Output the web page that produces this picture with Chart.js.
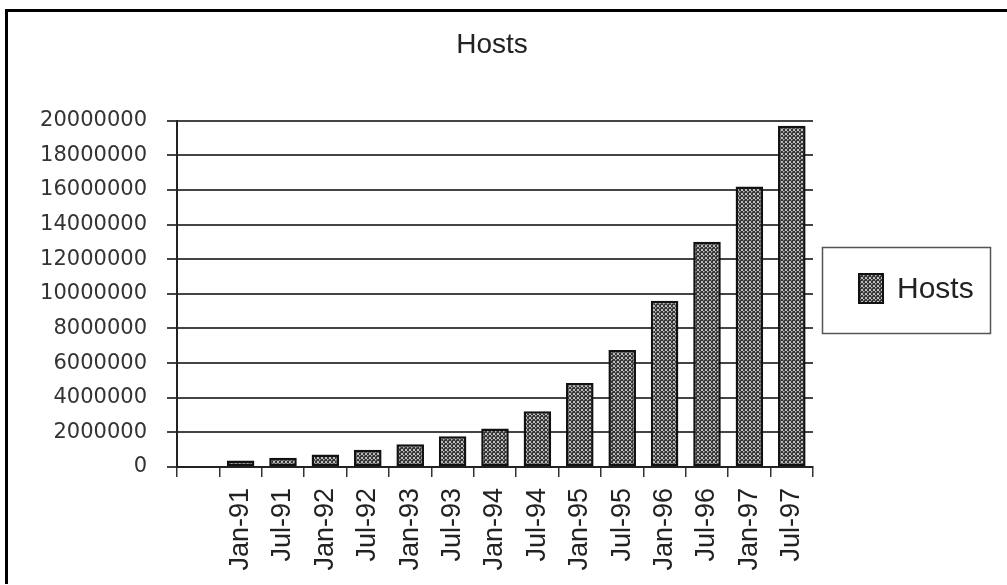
<!DOCTYPE html>
<html>
<head>
<meta charset="utf-8">
<title>Hosts</title>
<script src="https://cdn.jsdelivr.net/npm/chart.js@4/dist/chart.umd.min.js"></script>
<style>
  html, body { margin: 0; padding: 0; background: #fff; }
  #wrap { position: relative; width: 1007px; height: 585px; overflow: hidden; }
  #frameTop { position: absolute; left: 5px; top: 9px; width: 1002px; height: 3px; background: #000; }
  #frameLeft { position: absolute; left: 5px; top: 9px; width: 3px; height: 575px; background: #000; }
  canvas { position: absolute; left: 0; top: 0; }
</style>
</head>
<body>
<div id="wrap">
  <div id="frameTop"></div>
  <div id="frameLeft"></div>
  <canvas id="c" width="1007" height="585"></canvas>
</div>
<script>
// Half-yearly host counts; the first slot is an empty spacer category
const categories = ['', 'Jan-91', 'Jul-91', 'Jan-92', 'Jul-92', 'Jan-93', 'Jul-93', 'Jan-94',
  'Jul-94', 'Jan-95', 'Jul-95', 'Jan-96', 'Jul-96', 'Jan-97', 'Jul-97'];
const hosts = [null, 376000, 535000, 727000, 992000, 1313000, 1776000, 2217000,
  3212000, 4852000, 6750000, 9600000, 13000000, 16200000, 19700000];
const yMin = 0;
const yMax = 20000000;
const yStep = 2000000;
const seriesName = 'Hosts';

// Stippled grey fill for the columns
function makePattern() {
  const t = document.createElement('canvas');
  t.width = 4; t.height = 4;
  const g = t.getContext('2d');
  g.fillStyle = '#353535';
  g.fillRect(0, 0, 4, 4);
  g.fillStyle = '#bcbcbc';
  g.fillRect(1, 1, 2, 2);
  g.fillRect(3, 3, 1, 1);
  g.fillStyle = '#7e7e7e';
  g.fillRect(3, 0, 1, 1); g.fillRect(0, 3, 1, 1);
  return document.getElementById('c').getContext('2d').createPattern(t, 'repeat');
}
const fill = makePattern();

// Boxed legend drawn to the right of the plot
const boxedLegend = {
  id: 'boxedLegend',
  afterDraw(chart) {
    const ctx = chart.ctx;
    const ds = chart.data.datasets[0];
    ctx.save();
    ctx.strokeStyle = '#555';
    ctx.lineWidth = 1.5;
    ctx.strokeRect(822.5, 247.5, 168, 86);
    ctx.fillStyle = ds.backgroundColor;
    ctx.fillRect(859, 274, 24, 29);
    ctx.strokeStyle = '#111';
    ctx.lineWidth = 2;
    ctx.strokeRect(859, 274, 24, 29);
    ctx.fillStyle = '#222';
    ctx.font = '30px "Liberation Sans", Arial, sans-serif';
    ctx.textBaseline = 'middle';
    ctx.textAlign = 'left';
    ctx.fillText(ds.label, 897, 290);
    ctx.restore();
  }
};

new Chart(document.getElementById('c'), {
  type: 'bar',
  data: {
    labels: categories,
    datasets: [{
      label: seriesName,
      data: hosts,
      backgroundColor: fill,
      borderColor: '#111',
      borderWidth: 2.5,
      borderSkipped: false,
      categoryPercentage: 1.0,
      barPercentage: 0.65
    }]
  },
  options: {
    responsive: false,
    animation: false,
    devicePixelRatio: 1,
    layout: { padding: { left: 7, right: 30, top: 0, bottom: 0 } },
    plugins: {
      legend: { display: false },
      tooltip: { enabled: false },
      title: {
        display: true,
        text: seriesName,
        color: '#222',
        font: { family: '"Liberation Sans", Arial, sans-serif', size: 28, weight: 'normal', lineHeight: 1.2 },
        padding: { top: 28, bottom: 59 }
      }
    },
    scales: {
      x: {
        grid: { display: true, drawOnChartArea: false, drawTicks: true, tickLength: 10, color: '#333', lineWidth: 1.5, offset: true },
        border: { display: true, color: '#222', width: 2 },
        ticks: {
          autoSkip: false,
          minRotation: 90,
          maxRotation: 90,
          padding: 11,
          color: '#222',
          font: { family: '"Liberation Sans", Arial, sans-serif', size: 27 }
        },
        afterFit(s) { s.height = 118; }
      },
      y: {
        min: yMin,
        max: yMax,
        grid: { color: '#444', lineWidth: 2, drawTicks: true, tickLength: 10 },
        border: { display: true, color: '#222', width: 2 },
        ticks: {
          stepSize: yStep,
          padding: 20,
          color: '#333',
          font: { family: '"DejaVu Sans", Verdana, sans-serif', size: 21 },
          callback: v => String(v)
        },
        afterFit(s) { s.width = 170; }
      },
      legendRoom: {
        type: 'linear',
        position: 'right',
        display: true,
        grid: { display: false },
        border: { display: false },
        ticks: { display: false },
        afterFit(s) { s.width = 164; }
      }
    }
  },
  plugins: [boxedLegend]
});
</script>
</body>
</html>
